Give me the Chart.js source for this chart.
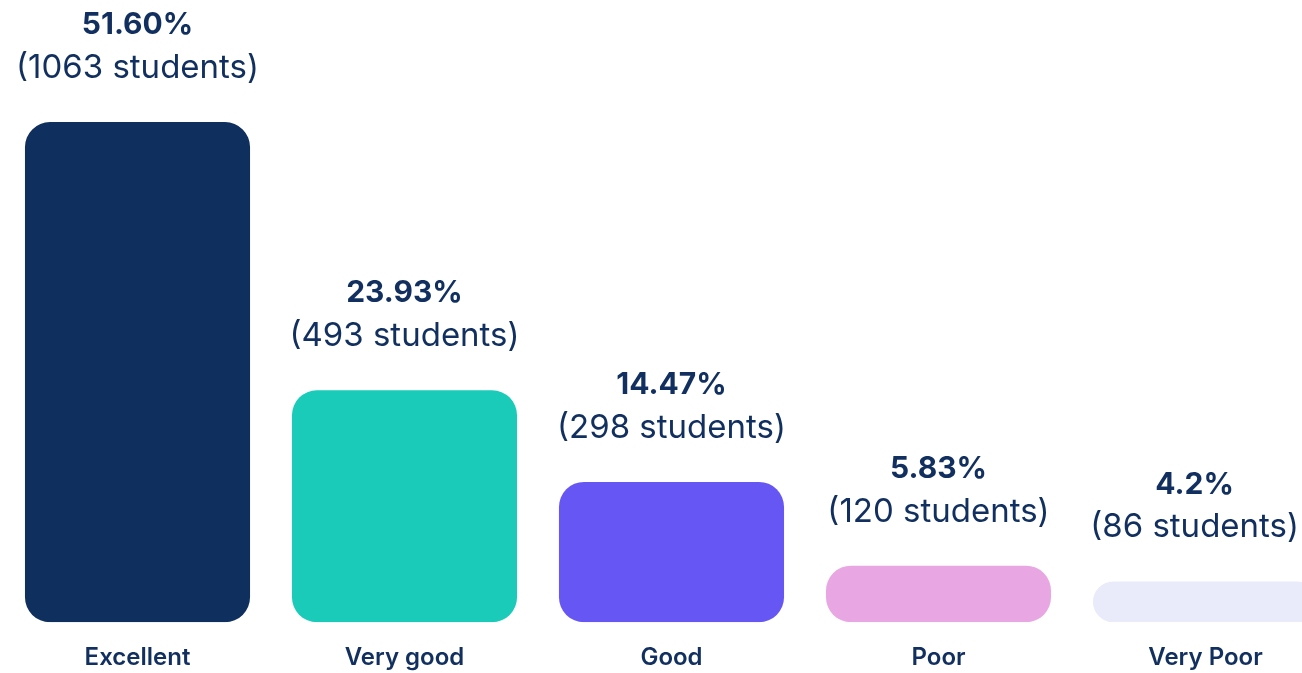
<!DOCTYPE html>
<html>
<head>
<meta charset="utf-8">
<script src="https://cdn.jsdelivr.net/npm/chart.js@4.4.1/dist/chart.umd.min.js"></script>
<style>
    html, body { margin: 0; padding: 0; background: #fff; overflow: hidden; }
    #wrap { width: 1340px; height: 698px; position: relative; }
</style>
</head>
<body>
<div id="wrap"><canvas id="ratingChart"></canvas></div>
<script>
const categories = ["Excellent", "Very good", "Good", "Poor", "Very Poor"];
const percentages = [51.6, 23.93, 14.47, 5.83, 4.2];
const percentLabels = ["51.60%", "23.93%", "14.47%", "5.83%", "4.2%"];
const studentCounts = [1063, 493, 298, 120, 86];
const barColors = ["#0f2f5f", "#1acbb9", "#6657f5", "#e8a7e2", "#e9eafa"];

const textColor = "#12305f";
const visibleWidth = 1302;

// draws the "xx% / (n students)" text above each bar
const topLabels = {
    id: "topLabels",
    afterDatasetsDraw(chart) {
        const ctx = chart.ctx;
        const meta = chart.getDatasetMeta(0);
        ctx.save();
        ctx.textAlign = "center";
        ctx.textBaseline = "middle";
        ctx.fillStyle = textColor;
        meta.data.forEach((bar, i) => {
            const line2 = "(" + studentCounts[i] + " students)";
            ctx.font = "33px Inter";
            const w = ctx.measureText(line2).width;
            // keep the text inside the visible page
            const x = Math.min(bar.x, visibleWidth - 3 - w / 2);
            ctx.fillText(line2, x, bar.y - 54);
            ctx.font = "bold 30px Inter";
            ctx.fillText(percentLabels[i], x, bar.y - 97);
        });
        ctx.restore();
    },
};

const ctx = document.getElementById("ratingChart").getContext("2d");

new Chart(ctx, {
    type: "bar",
    data: {
        labels: categories,
        datasets: [
            {
                data: percentages,
                backgroundColor: barColors,
                borderRadius: 25,
                borderSkipped: false,
                barPercentage: 1,
                categoryPercentage: 0.843,
            },
        ],
    },
    options: {
        responsive: true,
        maintainAspectRatio: false,
        animation: false,
        layout: {
            padding: { left: 4, right: 1, top: 0, bottom: 5 },
        },
        scales: {
            x: {
                grid: { display: false, drawTicks: false },
                border: { display: false },
                ticks: {
                    color: textColor,
                    padding: 21,
                    font: { family: "Inter", size: 24, weight: "600" },
                },
            },
            y: {
                display: false,
                min: 0,
                max: 64.2,
            },
        },
        plugins: {
            legend: { display: false },
            tooltip: { enabled: false },
        },
    },
    plugins: [topLabels],
});
</script>
</body>
</html>
